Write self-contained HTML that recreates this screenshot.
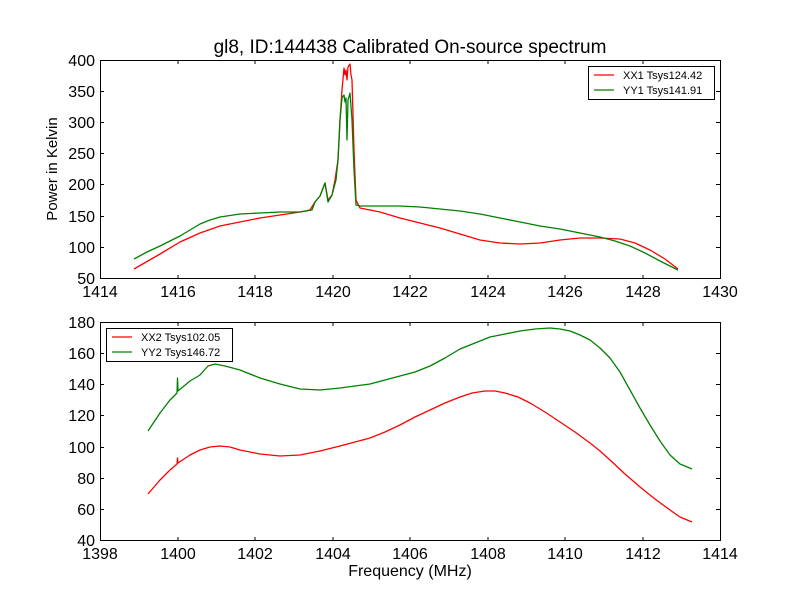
<!DOCTYPE html><html><head><style>body{margin:0;background:#fff}svg{font-family:"Liberation Sans",sans-serif}</style></head><body>
<svg width="800" height="600" viewBox="0 0 800 600">
<rect width="800" height="600" fill="#fff"/>
<text x="410" y="53" font-size="19" text-anchor="middle">gl8, ID:144438 Calibrated On-source spectrum</text>
<g fill="none" stroke-width="1.3" stroke-linejoin="round">
<polyline stroke="#f00" points="134,269 160,254 180,242 200,233 220,226 240,222 260,218 280,215 300,212 310,210 315,202 320,196 325,183 328,200 332,195 335,180 338,160 340,120 342,90 344,68 345,75 346,70 347,80 348,67 350,64 351,75 352,80 354,150 356,200 360,208 380,212 400,218 420,223 440,228 460,234 480,240 500,243 520,244 540,243 560,240 580,238 600,238 620,239 635,243 650,250 665,259 678,269"/>
<polyline stroke="#008000" points="134,259 147,252 160,246 170,241 180,236 190,230 200,224 210,220 220,217 240,214 260,213 280,212 300,212 312,210 315,202 320,196 325,183 328,202 332,195 336,180 338,160 340,120 342,98 344,95 345,102 346,98 347,140 348,100 350,93 352,120 354,170 356,205 360,206 380,206 400,206 420,207 440,209 460,211 480,214 500,218 520,222 540,226 560,229 580,233 600,237 615,241 630,246 645,253 660,261 678,270"/>
<polyline stroke="#f00" points="148,494 160,480 170,470 177,464 177.5,458 178,463 190,455 200,450 210,447 220,446 230,447 240,450 260,454 280,456 300,455 320,451 340,446 355,442 370,438 385,432 400,425 415,417 430,410 445,403 460,397 472,393 485,391 495,391 505,393 518,397 530,403 545,412 560,422 575,432 590,443 600,451 610,460 625,474 640,487 655,499 670,510 680,517 692,522"/>
<polyline stroke="#008000" points="148,431 160,413 170,400 177,393 177.5,378 178,391 190,381 200,375 208,366 215,364 225,366 240,370 260,378 280,384 300,389 320,390 340,388 355,386 370,384 385,380 400,376 415,372 430,366 445,358 460,349 475,343 490,337 505,334 520,331 535,329 550,328 560,329 570,331 580,335 590,340 600,348 610,358 620,372 630,390 640,408 650,425 660,441 670,455 680,464 692,469"/>
</g>
<g fill="none" stroke="#000" stroke-width="1">
<rect x="100.5" y="60.5" width="620" height="218"/>
<rect x="100.5" y="322.5" width="620" height="218"/>
</g>
<g stroke="#000" stroke-width="1">
<path d="M100.5,60v4M178,60v4M255,60v4M333,60v4M410,60v4M488,60v4M565,60v4M643,60v4M720.5,60v4M100.5,279v-4M178,279v-4M255,279v-4M333,279v-4M410,279v-4M488,279v-4M565,279v-4M643,279v-4M720.5,279v-4"/>
<path d="M100,60.5h4M100,91.5h4M100,122.5h4M100,153.5h4M100,184.5h4M100,216.5h4M100,247.5h4M100,278.5h4M720,60.5h-4M720,91.5h-4M720,122.5h-4M720,153.5h-4M720,184.5h-4M720,216.5h-4M720,247.5h-4"/>
<path d="M100.5,322v4M178,322v4M255,322v4M333,322v4M410,322v4M488,322v4M565,322v4M643,322v4M720.5,322v4M100.5,541v-4M178,541v-4M255,541v-4M333,541v-4M410,541v-4M488,541v-4M565,541v-4M643,541v-4M720.5,541v-4"/>
<path d="M100,353.5h4M100,384.5h4M100,415.5h4M100,447.5h4M100,478.5h4M100,509.5h4M720,353.5h-4M720,384.5h-4M720,415.5h-4M720,447.5h-4M720,478.5h-4M720,509.5h-4"/>
</g>
<g font-size="16" text-anchor="middle">
<text x="100" y="297">1414</text><text x="178" y="297">1416</text><text x="255" y="297">1418</text><text x="333" y="297">1420</text><text x="410" y="297">1422</text><text x="488" y="297">1424</text><text x="565" y="297">1426</text><text x="643" y="297">1428</text><text x="720" y="297">1430</text>
<text x="100" y="559">1398</text><text x="178" y="559">1400</text><text x="255" y="559">1402</text><text x="333" y="559">1404</text><text x="410" y="559">1406</text><text x="488" y="559">1408</text><text x="565" y="559">1410</text><text x="643" y="559">1412</text><text x="720" y="559">1414</text>
<text x="410" y="576" font-size="16">Frequency (MHz)</text>
</g>
<g font-size="16" text-anchor="end">
<text x="95" y="66">400</text><text x="95" y="97">350</text><text x="95" y="128">300</text><text x="95" y="159">250</text><text x="95" y="190">200</text><text x="95" y="222">150</text><text x="95" y="253">100</text><text x="95" y="284">50</text>
<text x="95" y="328">180</text><text x="95" y="359">160</text><text x="95" y="390">140</text><text x="95" y="421">120</text><text x="95" y="453">100</text><text x="95" y="484">80</text><text x="95" y="515">60</text><text x="95" y="546">40</text>
</g>
<text transform="translate(57,169) rotate(-90)" font-size="15" text-anchor="middle">Power in Kelvin</text>
<g font-size="11">
<rect x="588.5" y="66.5" width="126" height="33" fill="#fff" stroke="#000"/>
<line x1="594" y1="75" x2="614" y2="75" stroke="#f00" stroke-width="1.3"/><text x="623" y="79">XX1 Tsys124.42</text>
<line x1="594" y1="90" x2="614" y2="90" stroke="#008000" stroke-width="1.3"/><text x="623" y="94">YY1 Tsys141.91</text>
<rect x="106.5" y="328.5" width="126" height="33" fill="#fff" stroke="#000"/>
<line x1="112" y1="337" x2="132" y2="337" stroke="#f00" stroke-width="1.3"/><text x="141" y="341">XX2 Tsys102.05</text>
<line x1="112" y1="352" x2="132" y2="352" stroke="#008000" stroke-width="1.3"/><text x="141" y="356">YY2 Tsys146.72</text>
</g>
</svg></body></html>
